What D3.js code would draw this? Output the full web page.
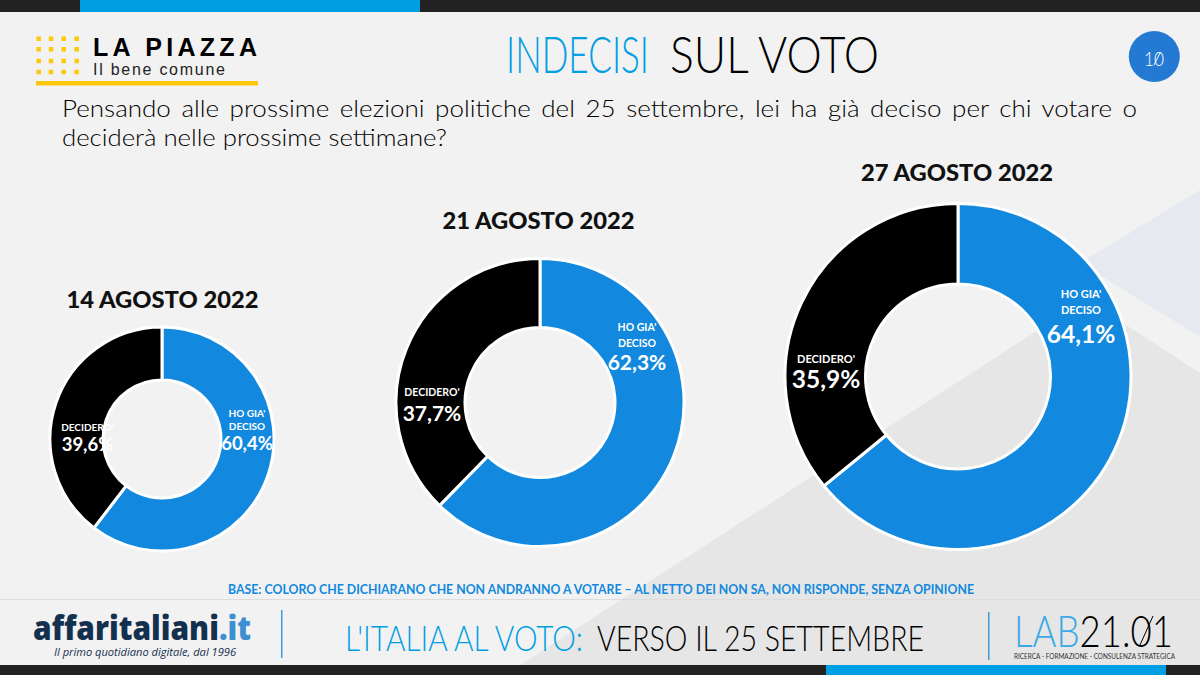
<!DOCTYPE html>
<html>
<head>
<meta charset="utf-8">
<script src="https://d3js.org/d3.v7.min.js"></script>
<style>
html, body { margin: 0; padding: 0; background: #f2f2f2; }
svg { display: block; }
</style>
</head>
<body>
<svg id="chart" width="1200" height="675"></svg>
<script>
var categories = ["HO GIA'|DECISO", "DECIDERO'"];
var dates = ['14 AGOSTO 2022', '21 AGOSTO 2022', '27 AGOSTO 2022'];
var deciso = [60.4, 62.3, 64.1];
var decidero = [39.6, 37.7, 35.9];
var sliceColors = ['#1289de', '#000000'];

var question = [
	'Pensando alle prossime elezioni politiche del 25 settembre, lei ha già deciso per chi votare o',
	'deciderà nelle prossime settimane?'
];

var svg = d3.select('#chart');
var bodyFont = 'Lato, sans-serif';

function bar(x, y, w, h, color) {
	svg.append('rect').attr('x', x).attr('y', y).attr('width', w).attr('height', h).attr('fill', color);
}

function rule(x1, y1, x2, y2, color, w) {
	svg.append('line').attr('x1', x1).attr('y1', y1).attr('x2', x2).attr('y2', y2)
		.attr('stroke', color).attr('stroke-width', w);
}

// fits text to the width measured on the picture
function label(x, y, txt, o) {
	var t = svg.append('text')
		.attr('x', x).attr('y', y)
		.attr('font-family', o.font || bodyFont)
		.attr('font-size', o.size)
		.attr('font-weight', o.weight || 400)
		.attr('font-style', o.style || 'normal')
		.attr('fill', o.color || '#000')
		.attr('text-anchor', o.anchor || 'start')
		.text(txt);
	if (o.wordSpacing) t.attr('word-spacing', o.wordSpacing);
	if (o.width) t.attr('textLength', o.width).attr('lengthAdjust', o.adjust || 'spacingAndGlyphs');
	return t;
}

// background shapes
svg.append('rect').attr('width', 1200).attr('height', 675).attr('fill', '#f2f2f2');
svg.append('path').attr('d', 'M1080,263L1200,190L1200,337Z').attr('fill', '#e6eaf0');
svg.append('path').attr('d', 'M1086,299L1200,373L1200,675L505,675Z').attr('fill', '#e6e6e6');

// top and bottom bands
bar(0, 0, 1200, 12, '#222222');
bar(80, 0, 340, 12, '#009fe3');
bar(0, 665, 1200, 10, '#222222');
bar(826, 665, 340, 10, '#009fe3');
rule(0, 599.5, 1200, 599.5, '#dcdcdc', 1);

// la piazza logo
[38.7, 51, 63.7, 76.7].forEach(function(x) {
	[38.7, 49.3, 61, 72].forEach(function(y) {
		bar(x - 2.25, y - 2.25, 4.5, 4.5, '#fdc70c');
	});
});
bar(36, 81, 222, 4.5, '#fdc70c');
label(93, 56, 'LA PIAZZA', { font: 'Liberation Sans', size: 25, weight: 700, width: 164, adjust: 'spacing' });
label(93, 75, 'Il bene comune', { font: 'Liberation Sans', size: 16, color: '#222', width: 132, adjust: 'spacing' });

// title
label(506, 73, 'INDECISI', { font: 'Lato', size: 51, weight: 300, color: '#009fe3', width: 143 });
label(670, 73, 'SUL VOTO', { font: 'Lato', size: 51, weight: 300, width: 209 });

// page number, the zero is slashed
svg.append('circle').attr('cx', 1154.3).attr('cy', 56.5).attr('r', 25.5).attr('fill', '#2479d2');
label(1154, 66, '10', { font: 'Lato', size: 20.5, weight: 300, color: '#fff', anchor: 'middle', width: 20 });
rule(1160.5, 52, 1154, 65, '#fff', 1);

// question
label(62, 117, question[0], { size: 22.5, weight: 300, width: 1075, wordSpacing: 3 });
label(62, 146, question[1], { size: 22.5, weight: 300, width: 385 });

// donuts
var centers = [[162, 439], [540, 402.5], [958, 376.5]];
var radii = [[59, 112], [75, 144], [92.5, 173]];
var datePos = [[162.5, 308], [538.5, 229], [957, 181]];
var pie = d3.pie().sort(null);
var labelPos = [
	{ a: [247, 417, 430, 450], b: [87.5, 431, 451], s: [10, 18.5] },
	{ a: [637, 331, 347, 370], b: [432, 396, 421], s: [10.5, 21] },
	{ a: [1081, 298, 314, 343], b: [826, 363, 388], s: [11, 24.5] }
];

dates.forEach(function(d, i) {
	var g = svg.append('g').attr('transform', 'translate(' + centers[i] + ')');
	var arc = d3.arc().innerRadius(radii[i][0]).outerRadius(radii[i][1]);
	g.selectAll('path')
		.data(pie([deciso[i], decidero[i]]))
		.join('path')
		.attr('d', arc)
		.attr('fill', (e, j) => sliceColors[j])
		.attr('stroke', '#fff')
		.attr('stroke-width', 3);

	label(datePos[i][0], datePos[i][1], d, { font: 'Lato', size: 23.5, weight: 900, color: '#111', anchor: 'middle', width: 192 });

	var p = labelPos[i];
	var lines = categories[0].split('|');
	label(p.a[0], p.a[1], lines[0], { size: p.s[0], weight: 700, color: '#fff', anchor: 'middle' });
	label(p.a[0], p.a[2], lines[1], { size: p.s[0], weight: 700, color: '#fff', anchor: 'middle' });
	label(p.a[0], p.a[3], String(deciso[i]).replace('.', ',') + '%', { size: p.s[1], weight: 700, color: '#fff', anchor: 'middle' });
	label(p.b[0], p.b[1], categories[1], { size: p.s[0], weight: 700, color: '#fff', anchor: 'middle' });
	label(p.b[0], p.b[2], String(decidero[i]).replace('.', ',') + '%', { size: p.s[1], weight: 700, color: '#fff', anchor: 'middle' });
});

// base note
label(601, 594, 'BASE: COLORO CHE DICHIARANO CHE NON ANDRANNO A VOTARE – AL NETTO DEI NON SA, NON RISPONDE, SENZA OPINIONE',
	{ size: 12.5, weight: 700, color: '#1289de', anchor: 'middle', width: 746 });

// footer
var brand = label(33, 640, '', { font: 'Open Sans', size: 33, weight: 800, color: '#14304f', width: 218 });
brand.append('tspan').text('affaritaliani');
brand.append('tspan').attr('fill', '#3d8fd1').text('.it');
label(54, 656, 'Il primo quotidiano digitale, dal 1996', { font: 'Open Sans', size: 10, style: 'italic', color: '#14304f', width: 182 });
bar(281, 610, 1.5, 48, '#3d9bd8');
label(345, 651, "L'ITALIA AL VOTO:", { size: 36, weight: 300, color: '#009fe3', width: 238 });
label(597, 651, 'VERSO IL 25 SETTEMBRE', { size: 36, weight: 300, width: 327 });
bar(988, 612, 1.5, 48, '#3d9bd8');
var lab = label(1014, 647, '', { size: 43, weight: 300, width: 159 });
lab.append('tspan').attr('fill', '#3aa9e6').text('LAB');
lab.append('tspan').text('21.01');
rule(1153, 616, 1140, 645, '#000', 1);
label(1014, 659, 'RICERCA - FORMAZIONE - CONSULENZA STRATEGICA', { size: 7, color: '#333', width: 161 });
</script>
</body>
</html>
